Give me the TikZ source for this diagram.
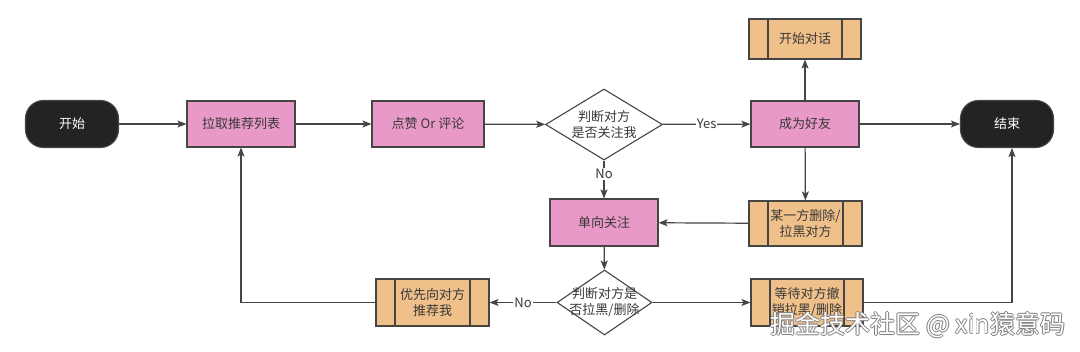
\documentclass[tikz,border=0pt]{standalone}
\usepackage{fontspec}
\setmainfont{Noto Sans CJK SC}
\usetikzlibrary{shapes.geometric,arrows.meta}
\definecolor{pinkfill}{HTML}{E899C8}
\definecolor{orangefill}{HTML}{F0C08A}
\definecolor{edgegray}{HTML}{454545}
\definecolor{termfill}{HTML}{232323}
\definecolor{txt}{HTML}{383838}
\begin{document}
\begin{tikzpicture}[x=1pt,y=-1pt,
  font=\fontsize{13}{16}\selectfont, text=txt,
  term/.style={draw=edgegray, fill=termfill, text=white, line width=1.1pt, rounded corners=18pt, minimum width=93pt, minimum height=47pt},
  proc/.style={draw=edgegray, fill=pinkfill, line width=1.1pt, minimum width=108pt, minimum height=46pt},
  sub/.style={draw=edgegray, fill=orangefill, line width=1.1pt, align=center, minimum width=112pt, minimum height=46pt,
    path picture={
      \draw[edgegray, line width=1.1pt] ([xshift=19pt]path picture bounding box.north west) -- ([xshift=19pt]path picture bounding box.south west);
      \draw[edgegray, line width=1.1pt] ([xshift=-19pt]path picture bounding box.north east) -- ([xshift=-19pt]path picture bounding box.south east);
    }},
  dec/.style={diamond, draw=edgegray, fill=white, line width=1.1pt, inner sep=0pt},
  arr/.style={draw=edgegray, line width=1.2pt, -{Stealth[length=9pt,width=7pt,inset=2pt]}},
  lbl/.style={fill=white, inner sep=1pt},
  wm/.style={font=\fontsize{25}{28}\selectfont, inner sep=0pt}
]
\useasboundingbox[fill=white] (0,0) rectangle (1080,352);

\node[term] (start) at (72,124) {开始};
\node[proc] (pull) at (241,124) {拉取推荐列表};
\node[proc, minimum width=112pt] (like) at (428,124) {点赞 Or 评论};
\node[dec, minimum width=117pt, minimum height=71pt,
  label={[align=center]center:判断对方\\是否关注我}] (ask) at (604,124.5) {};
\node[proc] (friend) at (805,124) {成为好友};
\node[sub, minimum height=40pt] (chat) at (805,39) {开始对话};
\node[term] (stop) at (1007,124) {结束};
\node[proc, minimum height=47pt] (one) at (604,222.5) {单向关注};
\node[sub, minimum width=113pt, minimum height=45pt] (del) at (805.5,223.5) {某一方删除/\\拉黑对方};
\node[dec, minimum width=95pt, minimum height=65pt,
  label={[align=center]center:判断对方是\\否拉黑/删除}] (ask2) at (604.5,302.5) {};
\node[sub, minimum width=113pt, minimum height=47pt] (rec) at (432.5,302.5) {优先向对方\\推荐我};
\node[sub, minimum height=47pt] (wait) at (807,302.5) {等待对方撤\\销拉黑/删除};

\draw[arr] (start) -- (pull);
\draw[arr] (pull) -- (like);
\draw[arr] (like) -- (ask);
\draw[arr] (ask) -- node[lbl] {Yes} (friend);
\draw[arr] (ask) -- node[lbl, pos=0.35] {No} (one);
\draw[arr] (friend) -- (chat);
\draw[arr] (friend) -- (stop);
\draw[arr] (friend) -- (del);
\draw[arr] (del) -- (one);
\draw[arr] (one) -- (ask2);
\draw[arr] (ask2) -- node[lbl] {No} (rec);
\draw[arr] (ask2) -- (wait);
\draw[arr] (rec.west) -| (pull.south);
\draw[arr] (wait.east) -| ([xshift=5pt]stop.south);

% watermark
\foreach \dx/\dy [count=\i] in {0.8/0,-0.8/0,0/0.8,0/-0.8}
  \node[wm, text=gray] (wm\i) at (918+\dx,325+\dy) {掘金技术社区 @ xin猿意码};
\node[wm, text=white] (wm) at (918,325) {掘金技术社区 @ xin猿意码};
\end{tikzpicture}
\end{document}
